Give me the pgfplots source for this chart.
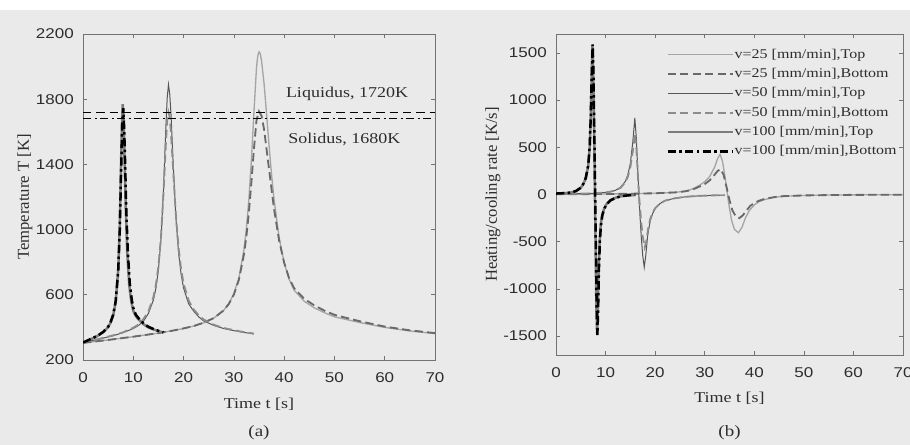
\documentclass[border=0pt]{standalone}
\usepackage{fontspec}
\setmainfont[FakeStretch=1.2]{Liberation Serif}
\newfontfamily\plainserif{Liberation Serif}
\newfontfamily\ticksans[FakeStretch=1.2]{Liberation Sans}
\usepackage{graphicx}
\usepackage{pgfplots}
\pgfplotsset{compat=1.18}

\definecolor{bg}{RGB}{234,234,234}
\definecolor{axgray}{RGB}{115,115,115}
\definecolor{txt}{RGB}{45,45,45}
\definecolor{c25t}{RGB}{165,165,165}
\definecolor{c25b}{RGB}{105,105,105}
\definecolor{c50t}{RGB}{85,85,85}
\definecolor{c50b}{RGB}{140,140,140}
\definecolor{c100t}{RGB}{125,125,125}

\pgfplotsset{
  matfig/.style={
    scale only axis,
    xmin=0, xmax=70, xtick={0,10,...,70},
    axis line style={axgray, line width=0.5pt},
    tick style={axgray, line width=0.4pt},
    tick align=inside, major tick length=2.4pt,
    ticklabel style={font=\ticksans\fontsize{8.5}{9}\selectfont, text=txt},
    xticklabel style={yshift=-4pt},
    yticklabel style={xshift=-2pt},
    /pgf/number format/assume math mode=true,
    /pgf/number format/1000 sep={},
    xlabel style={font=\fontsize{9}{10}\selectfont, text=txt,
      at={(axis description cs:0.5,-0.135)}, anchor=center},
    ylabel style={font=\plainserif\fontsize{10}{11}\selectfont, text=txt, anchor=center},
    no markers,
  },
  s25t/.style={c25t, line width=0.8pt, solid},
  s25b/.style={c25b, line width=1.1pt, dash pattern=on 5pt off 2.5pt},
  s50t/.style={c50t, line width=0.6pt, solid},
  s50b/.style={c50b, line width=1.1pt, dash pattern=on 5pt off 2.5pt},
  s100t/.style={c100t, line width=1.5pt, solid},
  s100b/.style={black, line width=1.5pt, dash pattern=on 5pt off 2pt on 1.5pt off 2pt},
}

\begin{document}
\begin{tikzpicture}
\fill[bg] (0,0) rectangle (546pt,267pt);
\fill[white] (0,261pt) rectangle (546pt,267pt);
\useasboundingbox (0,0) rectangle (546pt,267pt);

% (a) temperature
\begin{axis}[matfig,
  at={(49.8pt,51pt)}, anchor=south west,
  width=211.2pt, height=195.6pt,
  ymin=200, ymax=2200, ytick={200,600,...,2200},
  xlabel={Time t [s]},
  ylabel={Temperature T [K]},
  ylabel style={at={(axis description cs:-0.165,0.5)}},
]
\addplot[s25t] coordinates {(0,305) (5,323) (10,343) (15,365) (18,381) (20,393) (22,408) (24,428) (26,457) (28,505) (29,546) (30,606) (31,703) (32,875) (32.5,1008) (33,1191) (33.5,1434) (34,1723) (34.5,1993) (34.75,2065) (35,2090) (35.25,2080) (35.5,2037) (36,1898) (36.5,1712) (37,1516) (37.5,1337) (38,1183) (39,951) (40,797) (41,694) (42,628) (44,560) (46,520) (48,490) (50,465) (55,430) (60,400) (65,378) (70,362)};
\addplot[s25b] coordinates {(0,305) (5,323) (10,343) (15,365) (18,381) (20,394) (22,408) (24,429) (26,457) (28,505) (29,544) (30,601) (31,692) (32,846) (32.5,960) (33,1109) (33.5,1296) (34,1497) (34.5,1670) (35,1725) (35.5,1699) (36,1617) (37,1370) (38,1124) (39,933) (40,797) (41,701) (42,640) (44,575) (46,535) (48,503) (50,477) (55,438) (60,405) (65,382) (70,365)};
\addplot[s50t] coordinates {(0,307) (3,327) (6,349) (8,368) (10,393) (11,411) (12,437) (13,485) (14,568) (14.5,640) (15,754) (15.5,937) (16,1237) (16.5,1644) (16.75,1810) (17,1890) (17.25,1830) (17.5,1708) (18,1359) (18.5,1060) (19,860) (19.5,729) (20,642) (21,545) (22,500) (23,465) (24,440) (26,412) (28,393) (30,380) (32,369) (34,360)};
\addplot[s50b] coordinates {(0,308) (3,328) (6,351) (8,370) (10,398) (11,417) (12,450) (13,497) (14,586) (14.5,661) (15,775) (15.5,951) (16,1218) (16.5,1541) (16.75,1670) (17,1720) (17.25,1690) (17.5,1594) (18,1329) (18.5,1077) (19,889) (19.5,759) (20,669) (21,565) (22,510) (23,475) (24,448) (26,416) (28,396) (30,383) (32,371) (34,362)};
\addplot[s100t] coordinates {(0,307) (2,334) (3,350) (4,370) (5,401) (5.5,430) (6,473) (6.5,556) (7,752) (7.3,1010) (7.6,1448) (7.75,1650) (7.9,1770) (8.05,1700) (8.2,1524) (8.5,1130) (8.8,857) (9.2,659) (9.6,558) (10,502) (10.5,470) (11,450) (12,420) (13,400) (14,388) (15,377) (16,368)};
\addplot[s100b] coordinates {(0,307) (2,335) (3,351) (4,372) (5,404) (5.5,434) (6,478) (6.5,560) (7,745) (7.3,980) (7.6,1390) (7.8,1640) (8,1745) (8.15,1650) (8.3,1500) (8.6,1130) (8.9,870) (9.3,670) (9.7,570) (10,520) (10.5,478) (11,458) (12,425) (13,404) (14,390) (15,379) (16,370)};
% liquidus / solidus
\addplot[black, line width=0.8pt, dash pattern=on 5pt off 3pt] coordinates {(0,1720) (70,1720)};
\addplot[black, line width=0.8pt, dash pattern=on 5pt off 2pt on 1.2pt off 2pt] coordinates {(0,1680) (70,1680)};
\node[font=\fontsize{9}{10}\selectfont, text=txt] at (axis cs:52.5,1832) {Liquidus, 1720K};
\node[font=\fontsize{9}{10}\selectfont, text=txt] at (axis cs:52,1550) {Solidus, 1680K};
\end{axis}

% (b) heating/cooling rate
\begin{axis}[matfig,
  at={(333.6pt,54pt)}, anchor=south west,
  width=208.2pt, height=192.6pt,
  ymin=-1700, ymax=1700, ytick={-1500,-1000,...,1500},
  xlabel={Time t [s]},
  ylabel={Heating/cooling rate [K/s]},
  ylabel style={at={(axis description cs:-0.182,0.5)}},
  legend style={draw=none, fill=none, at={(rel axis cs:0.985,0.96)}, anchor=north east,
    font=\fontsize{8}{9}\selectfont, text=txt, row sep=2.6pt, inner sep=0pt,
    nodes={inner sep=0.5pt, text height=6pt, text depth=2pt}},
  legend cell align=left,
  legend image code/.code={\draw[#1] (0pt,0pt) -- (39pt,0pt);},
]
\addplot[s25t] coordinates {(0,3) (10,5) (15,8) (20,13) (24,22) (26,35) (27,48) (28,70) (29,100) (30,135) (31,190) (32,290) (32.6,380) (33.1,425) (33.6,350) (34.2,150) (34.8,-80) (35.4,-270) (36,-370) (36.8,-405) (37.5,-350) (38.2,-250) (39,-170) (40,-110) (41,-75) (42,-55) (44,-30) (46,-18) (50,-10) (55,-6) (60,-4) (65,-3) (70,-2)};
\addlegendentry{v=25 [mm/min],Top}
\addplot[s25b] coordinates {(0,3) (10,5) (15,8) (20,13) (24,22) (26,33) (27,44) (28,62) (29,85) (30,110) (31,150) (32,210) (32.6,250) (33.2,268) (33.8,210) (34.4,80) (35,-60) (35.6,-170) (36.3,-235) (37,-250) (37.7,-220) (38.4,-170) (39.2,-120) (40,-90) (41,-65) (42,-48) (44,-28) (46,-17) (50,-10) (55,-6) (60,-4) (65,-3) (70,-2)};
\addlegendentry{v=25 [mm/min],Bottom}
\addplot[s50t] coordinates {(0,5) (3,8) (6,10) (8,14) (10,22) (11,30) (12,45) (13,75) (14,140) (14.5,210) (15,330) (15.5,560) (15.9,810) (16.2,600) (16.5,250) (16.8,-100) (17.2,-450) (17.5,-650) (17.8,-770) (18.1,-650) (18.5,-430) (19,-280) (19.5,-200) (20,-150) (21,-95) (22,-65) (24,-40) (26,-25) (28,-17) (30,-12) (32,-9) (34,-7)};
\addlegendentry{v=50 [mm/min],Top}
\addplot[s50b] coordinates {(0,5) (3,8) (6,10) (8,14) (10,22) (11,30) (12,43) (13,70) (14,130) (14.5,190) (15,290) (15.5,460) (15.9,650) (16.2,500) (16.5,220) (16.8,-50) (17.2,-300) (17.5,-450) (17.9,-560) (18.2,-500) (18.6,-360) (19,-260) (19.5,-190) (20,-145) (21,-95) (22,-65) (24,-40) (26,-25) (28,-17) (30,-12) (32,-9) (34,-7)};
\addlegendentry{v=50 [mm/min],Bottom}
\addplot[s100t] coordinates {(0,10) (2,15) (3,20) (4,35) (5,70) (5.5,110) (6,170) (6.5,300) (6.8,500) (7,800) (7.2,1250) (7.35,1580) (7.5,1300) (7.7,600) (7.85,0) (8,-600) (8.15,-1200) (8.3,-1480) (8.45,-1200) (8.6,-800) (8.8,-500) (9,-330) (9.3,-220) (9.7,-150) (10.2,-100) (11,-60) (12,-35) (13,-20) (14,-12) (15,-7) (16,-5)};
\addlegendentry{v=100 [mm/min],Top}
\addplot[s100b] coordinates {(0,10) (2,15) (3,21) (4,36) (5,72) (5.5,112) (6,175) (6.5,310) (6.8,510) (7,810) (7.2,1260) (7.4,1590) (7.55,1300) (7.75,600) (7.9,0) (8.05,-600) (8.2,-1200) (8.35,-1490) (8.5,-1200) (8.65,-800) (8.85,-500) (9.05,-330) (9.35,-220) (9.75,-150) (10.25,-100) (11,-62) (12,-36) (13,-20) (14,-12) (15,-7) (16,-5)};
\addlegendentry{v=100 [mm/min],Bottom}
\end{axis}

\node[font=\fontsize{9.5}{10}\selectfont, text=txt] at (155.4pt,7.2pt) {(a)};
\node[font=\fontsize{9.5}{10}\selectfont, text=txt] at (437.7pt,7.2pt) {(b)};
\end{tikzpicture}
\end{document}
